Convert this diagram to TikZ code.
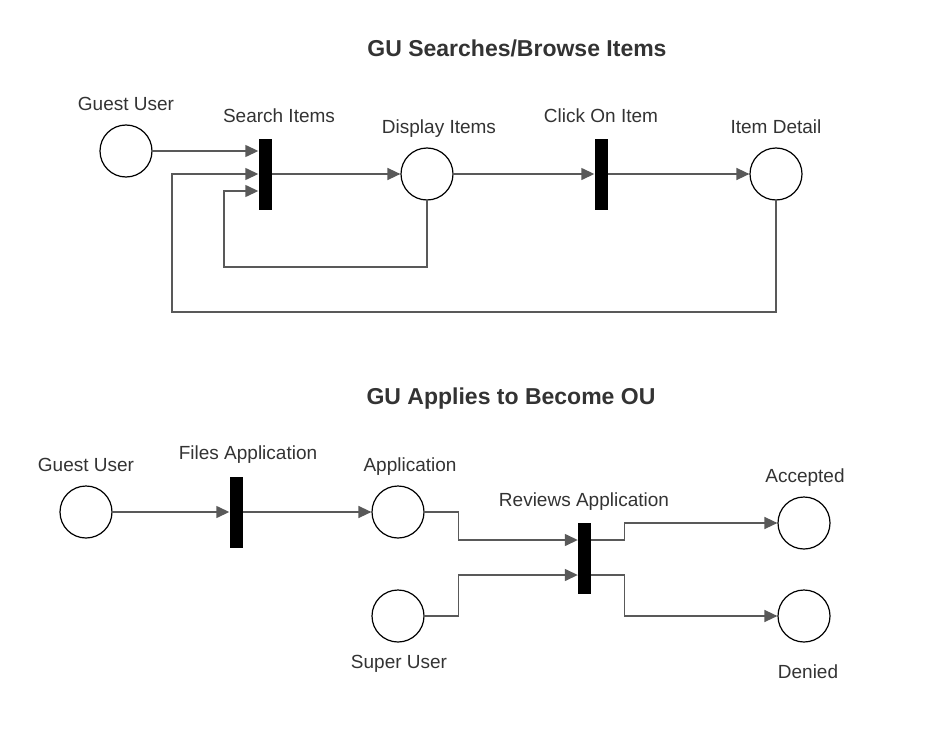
\documentclass[tikz,border=0pt]{standalone}
\usepackage{fontspec}
\setmainfont{Liberation Sans}
\usetikzlibrary{arrows.meta}
\definecolor{edgegray}{HTML}{595959}
\definecolor{txtgray}{HTML}{333333}
\tikzset{
    place/.style={circle, draw=black, line width=1.2pt, minimum size=52pt, inner sep=0pt},
    trans/.style={rectangle, fill=black, minimum width=13pt, minimum height=71pt, inner sep=0pt},
    lbl/.style={text=txtgray, font=\fontsize{19}{22}\selectfont, inner sep=0pt, text height=13.6pt, text depth=0pt},
    ttl/.style={text=txtgray, font=\fontsize{23}{26}\selectfont\bfseries, inner sep=0pt, text height=16.5pt, text depth=0pt},
    flow/.style={draw=edgegray, line width=1.4pt, -{Triangle[length=13pt,width=12pt]}}
}
\begin{document}
\begin{tikzpicture}[x=1pt,y=-1pt]
    \useasboundingbox (0,0) rectangle (939,733);
    % searching and browsing
    \node[ttl] (t1) at (517,48) {GU Searches/Browse Items};
    \node[place] (gu) at (126,151) {};
    \node[trans] (si) at (265,174) {};
    \node[place] (di) at (427,174) {};
    \node[trans] (ci) at (601,174) {};
    \node[place] (id) at (776,174) {};
    \node[lbl] (guL) at (126,104) {Guest User};
    \node[lbl] (siL) at (279,116) {Search Items};
    \node[lbl] (diL) at (439,127) {Display Items};
    \node[lbl] (ciL) at (601,116) {Click On Item};
    \node[lbl] (idL) at (776,127) {Item Detail};
    \draw[flow] (gu.east) -- (gu.east -| si.west);
    \draw[flow] (si.east) -- (di.west);
    \draw[flow] (di.east) -- (ci.west);
    \draw[flow] (ci.east) -- (id.west);
    \draw[flow] (di.south) |- (224,267) |- ([yshift=-17pt]si.west);
    \draw[flow] (id.south) |- (172,312) |- (si.west);
    % applying to become OU
    \node[ttl] (t2) at (511,396) {GU Applies to Become OU};
    \node[place] (gu2) at (86,512) {};
    \node[trans] (fa) at (236,512) {};
    \node[place] (ap) at (398,512) {};
    \node[trans] (ra) at (584.5,558) {};
    \node[place] (su) at (398,616) {};
    \node[place] (ac) at (804,523) {};
    \node[place] (de) at (804,616) {};
    \node[lbl] (gu2L) at (86,465) {Guest User};
    \node[lbl] (faL) at (248,453) {Files Application};
    \node[lbl] (apL) at (410,465) {Application};
    \node[lbl] (raL) at (584,500) {Reviews Application};
    \node[lbl] (suL) at (399,662) {Super User};
    \node[lbl] (acL) at (805,476) {Accepted};
    \node[lbl] (deL) at (808,672) {Denied};
    \draw[flow] (gu2.east) -- (fa.west);
    \draw[flow] (fa.east) -- (ap.west);
    \draw[flow] (ap.east) -- ++(34,0) |- ([yshift=18pt]ra.west);
    \draw[flow] (su.east) -- ++(34,0) |- ([yshift=-17pt]ra.west);
    \draw[flow] ([yshift=18pt]ra.east) -- ++(33,0) |- (ac.west);
    \draw[flow] ([yshift=-17pt]ra.east) -- ++(33,0) |- (de.west);
\end{tikzpicture}
\end{document}
